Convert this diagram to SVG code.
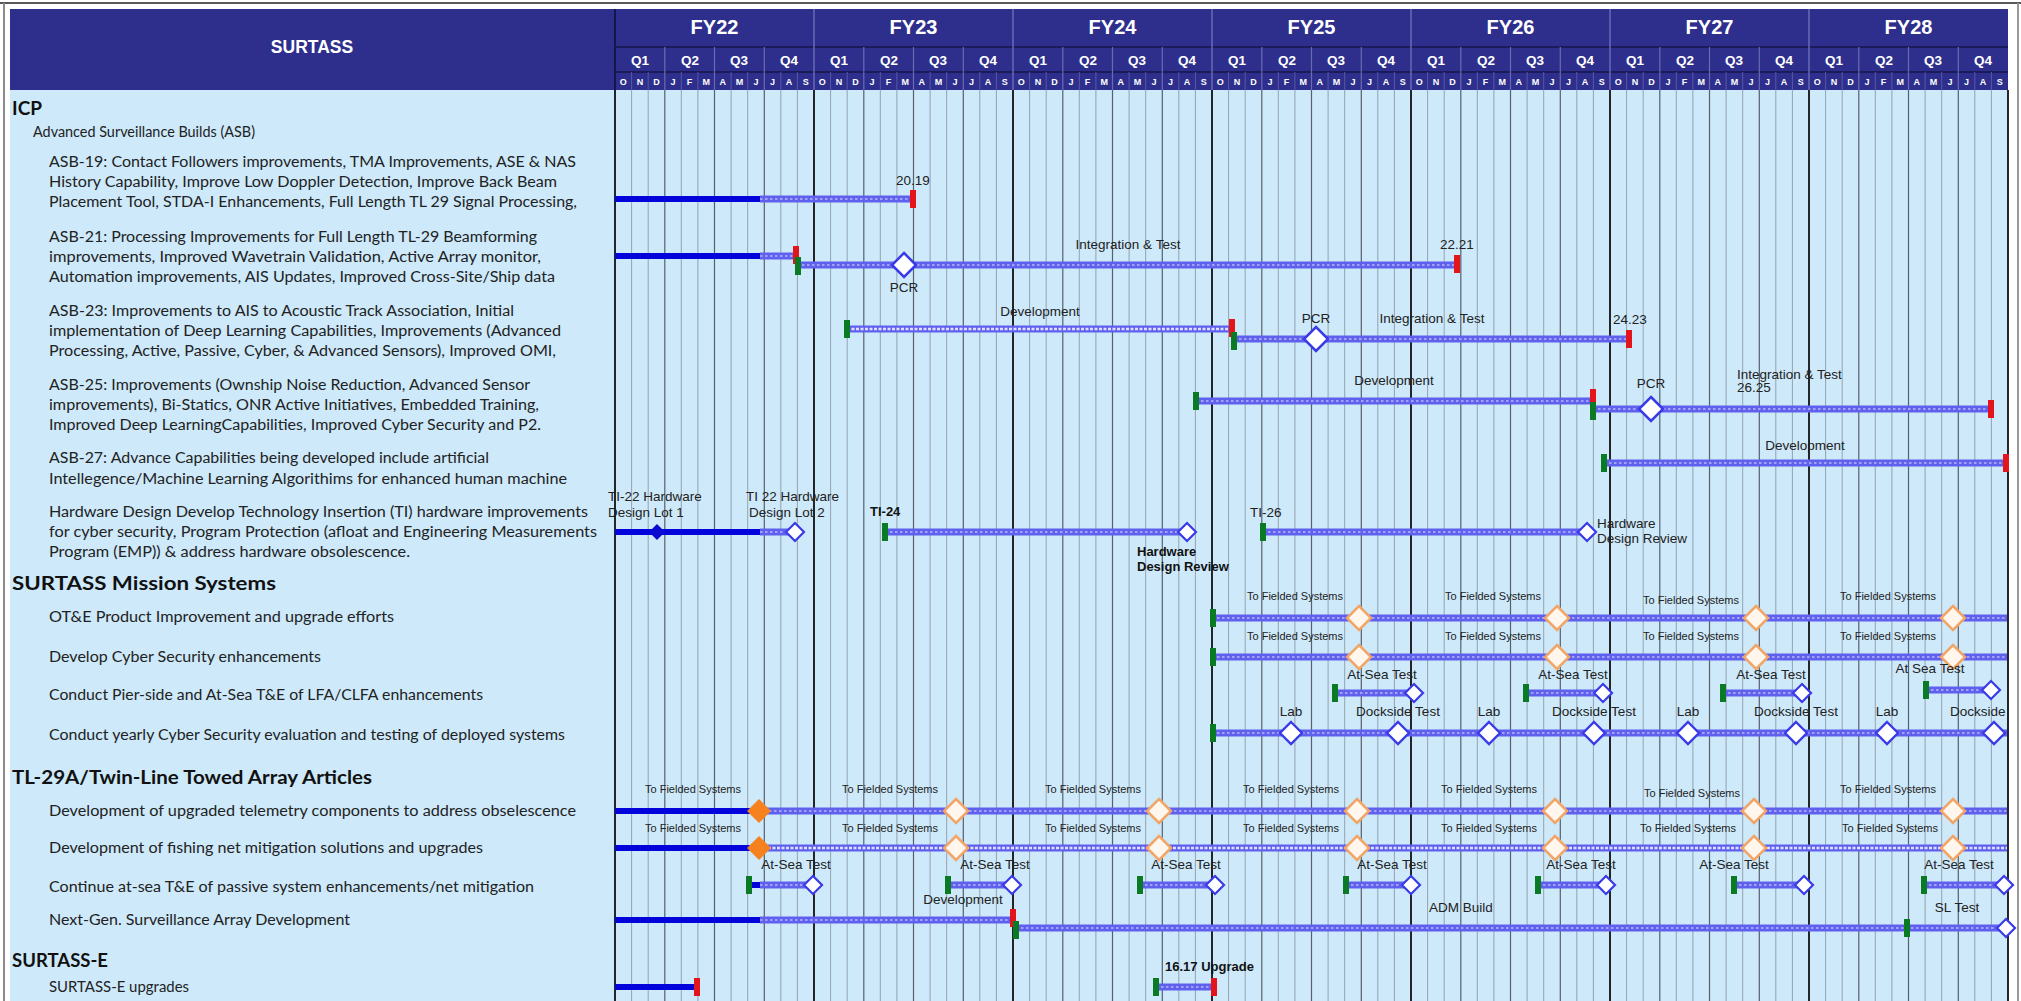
<svg xmlns="http://www.w3.org/2000/svg" xmlns:xlink="http://www.w3.org/1999/xlink" width="2021" height="1001" viewBox="0 0 2021 1001">
<style>
.lt{font-family:"Lato","Liberation Sans",sans-serif;font-size:15.5px;fill:#222}
.hd1{font-family:"Lato","Liberation Sans",sans-serif;font-size:19px;font-weight:bold;fill:#111}
.sec{font-family:"Lato","Liberation Sans",sans-serif;font-size:15.5px;fill:#222}
.lb{font-family:"Liberation Sans",Arial,sans-serif;font-size:13.5px;fill:#222}
.lbc{font-family:"Liberation Sans",Arial,sans-serif;font-size:13.5px;fill:#222;text-anchor:middle}
.tf{font-family:"Liberation Sans",Arial,sans-serif;font-size:11px;fill:#222;text-anchor:middle}
.bd{font-family:"Liberation Sans",Arial,sans-serif;font-size:13px;font-weight:bold;fill:#111}
.fy{font-family:"Liberation Sans",Arial,sans-serif;font-size:20px;font-weight:bold;fill:#fff;text-anchor:middle}
.q{font-family:"Liberation Sans",Arial,sans-serif;font-size:13.5px;font-weight:bold;fill:#fff;text-anchor:middle}
.mo{font-family:"Liberation Sans",Arial,sans-serif;font-size:9px;font-weight:bold;fill:#fff;text-anchor:middle}
.sb{stroke:#0303dc;stroke-width:6}
.hb{stroke:#6060ee;stroke-width:7}
.hs{stroke:#b8b8ff;stroke-width:1.6;stroke-dasharray:2.5 2.5}
.dv{stroke:#6060ee;stroke-width:7}
.dvi{stroke:#dedeff;stroke-width:2.6;stroke-dasharray:3 1.5}
</style>
<defs>
<rect id="red" x="-3" y="-9" width="6" height="18" fill="#e3151a"/>
<rect id="grn" x="-3" y="-9" width="6" height="18" fill="#0b7a24"/>
<path id="dpcr" d="M0,-12L12,0L0,12L-12,0Z" fill="#fff" stroke="#3a3ae8" stroke-width="2.5"/>
<path id="dsm" d="M0,-9L9,0L0,9L-9,0Z" fill="#fff" stroke="#3a3ae8" stroke-width="2.2"/>
<path id="dmd" d="M0,-11L11,0L0,11L-11,0Z" fill="#fff" stroke="#3a3ae8" stroke-width="2.4"/>
<path id="dbl" d="M0,-8L8,0L0,8L-8,0Z" fill="#0a0ad0"/>
<path id="dor" d="M0,-12L12,0L0,12L-12,0Z" fill="#fff7ee" stroke="#f2a566" stroke-width="2.5"/>
<path id="dof" d="M0,-12L12,0L0,12L-12,0Z" fill="#f5821f"/>
<clipPath id="tl"><rect x="615" y="90" width="1393" height="911"/></clipPath>
</defs>

<g id="background">
<rect x="0" y="0" width="2021" height="1001" fill="#fff"/>
<line x1="0" y1="3" x2="2021" y2="3" stroke="#222" stroke-width="1.5"/>
<line x1="4" y1="3" x2="4" y2="1001" stroke="#8a8a8a" stroke-width="2"/>
<line x1="2018" y1="3" x2="2018" y2="1001" stroke="#9a9a9a" stroke-width="2"/>
<rect x="10" y="90" width="605" height="911" fill="#cde9fa"/>
<rect x="615" y="90" width="1393" height="911" fill="#cde9fa"/>
</g>

<g id="header">
<rect x="10" y="9" width="1998" height="81" fill="#2e2f8c"/>
<text x="312" y="53" font-family="Liberation Sans,Arial,sans-serif" font-size="17.5" font-weight="bold" fill="#fff" text-anchor="middle">SURTASS</text>
<line x1="615" y1="9" x2="615" y2="90" stroke="#15154a" stroke-width="2"/>
<path d="M615 47H2008M615 72H2008" stroke="#1b1b5a" stroke-width="2"/>
<path d="M814 9V90M1013 9V90M1212 9V90M1411 9V90M1610 9V90M1809 9V90" stroke="#6a6ab4" stroke-width="1.5"/>
<path d="M664.8 47V90M714.5 47V90M764.3 47V90M863.8 47V90M913.5 47V90M963.3 47V90M1062.8 47V90M1112.5 47V90M1162.3 47V90M1261.8 47V90M1311.5 47V90M1361.3 47V90M1460.8 47V90M1510.5 47V90M1560.3 47V90M1659.8 47V90M1709.5 47V90M1759.3 47V90M1858.8 47V90M1908.5 47V90M1958.3 47V90" stroke="#6a6ab4" stroke-width="1.2"/>
<path d="M631.6 72V90M648.2 72V90M681.3 72V90M697.9 72V90M731.1 72V90M747.7 72V90M780.8 72V90M797.4 72V90M830.6 72V90M847.2 72V90M880.3 72V90M896.9 72V90M930.1 72V90M946.7 72V90M979.8 72V90M996.4 72V90M1029.6 72V90M1046.2 72V90M1079.3 72V90M1095.9 72V90M1129.1 72V90M1145.7 72V90M1178.8 72V90M1195.4 72V90M1228.6 72V90M1245.2 72V90M1278.3 72V90M1294.9 72V90M1328.1 72V90M1344.7 72V90M1377.8 72V90M1394.4 72V90M1427.6 72V90M1444.2 72V90M1477.3 72V90M1493.9 72V90M1527.1 72V90M1543.7 72V90M1576.8 72V90M1593.4 72V90M1626.6 72V90M1643.2 72V90M1676.3 72V90M1692.9 72V90M1726.1 72V90M1742.7 72V90M1775.8 72V90M1792.4 72V90M1825.6 72V90M1842.2 72V90M1875.3 72V90M1891.9 72V90M1925.1 72V90M1941.7 72V90M1974.8 72V90M1991.4 72V90" stroke="#5858a6" stroke-width="1"/>
<text class="fy" x="714.5" y="34">FY22</text>
<text class="fy" x="913.5" y="34">FY23</text>
<text class="fy" x="1112.5" y="34">FY24</text>
<text class="fy" x="1311.5" y="34">FY25</text>
<text class="fy" x="1510.5" y="34">FY26</text>
<text class="fy" x="1709.5" y="34">FY27</text>
<text class="fy" x="1908.5" y="34">FY28</text>
<g id="quarters">
<text class="q" x="640" y="65">Q1</text><text class="q" x="690" y="65">Q2</text><text class="q" x="739" y="65">Q3</text><text class="q" x="789" y="65">Q4</text>
<text class="q" x="839" y="65">Q1</text><text class="q" x="889" y="65">Q2</text><text class="q" x="938" y="65">Q3</text><text class="q" x="988" y="65">Q4</text>
<text class="q" x="1038" y="65">Q1</text><text class="q" x="1088" y="65">Q2</text><text class="q" x="1137" y="65">Q3</text><text class="q" x="1187" y="65">Q4</text>
<text class="q" x="1237" y="65">Q1</text><text class="q" x="1287" y="65">Q2</text><text class="q" x="1336" y="65">Q3</text><text class="q" x="1386" y="65">Q4</text>
<text class="q" x="1436" y="65">Q1</text><text class="q" x="1486" y="65">Q2</text><text class="q" x="1535" y="65">Q3</text><text class="q" x="1585" y="65">Q4</text>
<text class="q" x="1635" y="65">Q1</text><text class="q" x="1685" y="65">Q2</text><text class="q" x="1734" y="65">Q3</text><text class="q" x="1784" y="65">Q4</text>
<text class="q" x="1834" y="65">Q1</text><text class="q" x="1884" y="65">Q2</text><text class="q" x="1933" y="65">Q3</text><text class="q" x="1983" y="65">Q4</text>
</g>
<g id="months">
<text class="mo" x="623.3" y="85">O</text><text class="mo" x="639.9" y="85">N</text><text class="mo" x="656.5" y="85">D</text><text class="mo" x="673" y="85">J</text><text class="mo" x="689.6" y="85">F</text><text class="mo" x="706.2" y="85">M</text><text class="mo" x="722.8" y="85">A</text><text class="mo" x="739.4" y="85">M</text><text class="mo" x="756" y="85">J</text><text class="mo" x="772.5" y="85">J</text><text class="mo" x="789.1" y="85">A</text><text class="mo" x="805.7" y="85">S</text>
<text class="mo" x="822.3" y="85">O</text><text class="mo" x="838.9" y="85">N</text><text class="mo" x="855.5" y="85">D</text><text class="mo" x="872" y="85">J</text><text class="mo" x="888.6" y="85">F</text><text class="mo" x="905.2" y="85">M</text><text class="mo" x="921.8" y="85">A</text><text class="mo" x="938.4" y="85">M</text><text class="mo" x="955" y="85">J</text><text class="mo" x="971.5" y="85">J</text><text class="mo" x="988.1" y="85">A</text><text class="mo" x="1004.7" y="85">S</text>
<text class="mo" x="1021.3" y="85">O</text><text class="mo" x="1037.9" y="85">N</text><text class="mo" x="1054.5" y="85">D</text><text class="mo" x="1071" y="85">J</text><text class="mo" x="1087.6" y="85">F</text><text class="mo" x="1104.2" y="85">M</text><text class="mo" x="1120.8" y="85">A</text><text class="mo" x="1137.4" y="85">M</text><text class="mo" x="1154" y="85">J</text><text class="mo" x="1170.5" y="85">J</text><text class="mo" x="1187.1" y="85">A</text><text class="mo" x="1203.7" y="85">S</text>
<text class="mo" x="1220.3" y="85">O</text><text class="mo" x="1236.9" y="85">N</text><text class="mo" x="1253.5" y="85">D</text><text class="mo" x="1270" y="85">J</text><text class="mo" x="1286.6" y="85">F</text><text class="mo" x="1303.2" y="85">M</text><text class="mo" x="1319.8" y="85">A</text><text class="mo" x="1336.4" y="85">M</text><text class="mo" x="1353" y="85">J</text><text class="mo" x="1369.5" y="85">J</text><text class="mo" x="1386.1" y="85">A</text><text class="mo" x="1402.7" y="85">S</text>
<text class="mo" x="1419.3" y="85">O</text><text class="mo" x="1435.9" y="85">N</text><text class="mo" x="1452.5" y="85">D</text><text class="mo" x="1469" y="85">J</text><text class="mo" x="1485.6" y="85">F</text><text class="mo" x="1502.2" y="85">M</text><text class="mo" x="1518.8" y="85">A</text><text class="mo" x="1535.4" y="85">M</text><text class="mo" x="1552" y="85">J</text><text class="mo" x="1568.5" y="85">J</text><text class="mo" x="1585.1" y="85">A</text><text class="mo" x="1601.7" y="85">S</text>
<text class="mo" x="1618.3" y="85">O</text><text class="mo" x="1634.9" y="85">N</text><text class="mo" x="1651.5" y="85">D</text><text class="mo" x="1668" y="85">J</text><text class="mo" x="1684.6" y="85">F</text><text class="mo" x="1701.2" y="85">M</text><text class="mo" x="1717.8" y="85">A</text><text class="mo" x="1734.4" y="85">M</text><text class="mo" x="1751" y="85">J</text><text class="mo" x="1767.5" y="85">J</text><text class="mo" x="1784.1" y="85">A</text><text class="mo" x="1800.7" y="85">S</text>
<text class="mo" x="1817.3" y="85">O</text><text class="mo" x="1833.9" y="85">N</text><text class="mo" x="1850.5" y="85">D</text><text class="mo" x="1867" y="85">J</text><text class="mo" x="1883.6" y="85">F</text><text class="mo" x="1900.2" y="85">M</text><text class="mo" x="1916.8" y="85">A</text><text class="mo" x="1933.4" y="85">M</text><text class="mo" x="1950" y="85">J</text><text class="mo" x="1966.5" y="85">J</text><text class="mo" x="1983.1" y="85">A</text><text class="mo" x="1999.7" y="85">S</text>
</g>
</g>

<g id="grid">
<path d="M631.6 90V1001M648.2 90V1001M681.3 90V1001M697.9 90V1001M731.1 90V1001M747.7 90V1001M780.8 90V1001M797.4 90V1001M830.6 90V1001M847.2 90V1001M880.3 90V1001M896.9 90V1001M930.1 90V1001M946.7 90V1001M979.8 90V1001M996.4 90V1001M1029.6 90V1001M1046.2 90V1001M1079.3 90V1001M1095.9 90V1001M1129.1 90V1001M1145.7 90V1001M1178.8 90V1001M1195.4 90V1001M1228.6 90V1001M1245.2 90V1001M1278.3 90V1001M1294.9 90V1001M1328.1 90V1001M1344.7 90V1001M1377.8 90V1001M1394.4 90V1001M1427.6 90V1001M1444.2 90V1001M1477.3 90V1001M1493.9 90V1001M1527.1 90V1001M1543.7 90V1001M1576.8 90V1001M1593.4 90V1001M1626.6 90V1001M1643.2 90V1001M1676.3 90V1001M1692.9 90V1001M1726.1 90V1001M1742.7 90V1001M1775.8 90V1001M1792.4 90V1001M1825.6 90V1001M1842.2 90V1001M1875.3 90V1001M1891.9 90V1001M1925.1 90V1001M1941.7 90V1001M1974.8 90V1001M1991.4 90V1001" stroke="#95a2ae" stroke-width="1"/>
<path d="M664.8 90V1001M714.5 90V1001M764.3 90V1001M863.8 90V1001M913.5 90V1001M963.3 90V1001M1062.8 90V1001M1112.5 90V1001M1162.3 90V1001M1261.8 90V1001M1311.5 90V1001M1361.3 90V1001M1460.8 90V1001M1510.5 90V1001M1560.3 90V1001M1659.8 90V1001M1709.5 90V1001M1759.3 90V1001M1858.8 90V1001M1908.5 90V1001M1958.3 90V1001" stroke="#56616c" stroke-width="1.2"/>
<path d="M615 90V1001M814 90V1001M1013 90V1001M1212 90V1001M1411 90V1001M1610 90V1001M1809 90V1001M2008 90V1001" stroke="#111" stroke-width="1.8"/>
</g>

<g id="left-labels">
<text class="hd1" x="12" y="115">ICP</text>
<text class="sec" x="33" y="137" textLength="222" lengthAdjust="spacingAndGlyphs">Advanced Surveillance Builds (ASB)</text>
<g id="lbl-asb19">
<text class="lt" x="49" y="167" textLength="527" lengthAdjust="spacingAndGlyphs">ASB-19: Contact Followers improvements, TMA Improvements, ASE &amp; NAS</text>
<text class="lt" x="49" y="187" textLength="508" lengthAdjust="spacingAndGlyphs">History Capability, Improve Low Doppler Detection, Improve Back Beam</text>
<text class="lt" x="49" y="207" textLength="528" lengthAdjust="spacingAndGlyphs">Placement Tool, STDA-I Enhancements, Full Length TL 29 Signal Processing,</text>
</g>
<g id="lbl-asb21">
<text class="lt" x="49" y="242" textLength="488" lengthAdjust="spacingAndGlyphs">ASB-21: Processing Improvements for Full Length TL-29 Beamforming</text>
<text class="lt" x="49" y="262" textLength="492" lengthAdjust="spacingAndGlyphs">improvements, Improved Wavetrain Validation, Active Array monitor,</text>
<text class="lt" x="49" y="282" textLength="506" lengthAdjust="spacingAndGlyphs">Automation improvements, AIS Updates, Improved Cross-Site/Ship data</text>
</g>
<g id="lbl-asb23">
<text class="lt" x="49" y="316" textLength="465" lengthAdjust="spacingAndGlyphs">ASB-23: Improvements to AIS to Acoustic Track Association, Initial</text>
<text class="lt" x="49" y="336" textLength="512" lengthAdjust="spacingAndGlyphs">implementation of Deep Learning Capabilities, Improvements (Advanced</text>
<text class="lt" x="49" y="356" textLength="507" lengthAdjust="spacingAndGlyphs">Processing, Active, Passive, Cyber, &amp; Advanced Sensors), Improved OMI,</text>
</g>
<g id="lbl-asb25">
<text class="lt" x="49" y="390" textLength="481" lengthAdjust="spacingAndGlyphs">ASB-25: Improvements (Ownship Noise Reduction, Advanced Sensor</text>
<text class="lt" x="49" y="410" textLength="490" lengthAdjust="spacingAndGlyphs">improvements), Bi-Statics, ONR Active Initiatives, Embedded Training,</text>
<text class="lt" x="49" y="430" textLength="492" lengthAdjust="spacingAndGlyphs">Improved Deep LearningCapabilities, Improved Cyber Security and P2.</text>
</g>
<g id="lbl-asb27">
<text class="lt" x="49" y="463" textLength="440" lengthAdjust="spacingAndGlyphs">ASB-27: Advance Capabilities being developed include artificial</text>
<text class="lt" x="49" y="484" textLength="518" lengthAdjust="spacingAndGlyphs">Intellegence/Machine Learning Algorithims for enhanced human machine</text>
</g>
<g id="lbl-hw">
<text class="lt" x="49" y="517" textLength="539" lengthAdjust="spacingAndGlyphs">Hardware Design Develop Technology Insertion (TI) hardware improvements</text>
<text class="lt" x="49" y="537" textLength="548" lengthAdjust="spacingAndGlyphs">for cyber security, Program Protection (afloat and Engineering Measurements</text>
<text class="lt" x="49" y="557" textLength="361" lengthAdjust="spacingAndGlyphs">Program (EMP)) &amp; address hardware obsolescence.</text>
</g>
<text class="hd1" x="12" y="590" textLength="264" lengthAdjust="spacingAndGlyphs">SURTASS Mission Systems</text>
<text class="lt" x="49" y="622" textLength="345" lengthAdjust="spacingAndGlyphs">OT&amp;E Product Improvement and upgrade efforts</text>
<text class="lt" x="49" y="662" textLength="272" lengthAdjust="spacingAndGlyphs">Develop Cyber Security enhancements</text>
<text class="lt" x="49" y="700" textLength="434" lengthAdjust="spacingAndGlyphs">Conduct Pier-side and At-Sea T&amp;E of LFA/CLFA enhancements</text>
<text class="lt" x="49" y="740" textLength="516" lengthAdjust="spacingAndGlyphs">Conduct yearly Cyber Security evaluation and testing of deployed systems</text>
<text class="hd1" x="12" y="784" textLength="360" lengthAdjust="spacingAndGlyphs">TL-29A/Twin-Line Towed Array Articles</text>
<text class="lt" x="49" y="816" textLength="527" lengthAdjust="spacingAndGlyphs">Development of upgraded telemetry components to address obselescence</text>
<text class="lt" x="49" y="853" textLength="434" lengthAdjust="spacingAndGlyphs">Development of fishing net mitigation solutions and upgrades</text>
<text class="lt" x="49" y="892" textLength="485" lengthAdjust="spacingAndGlyphs">Continue at-sea T&amp;E of passive system enhancements/net mitigation</text>
<text class="lt" x="49" y="925" textLength="301" lengthAdjust="spacingAndGlyphs">Next-Gen. Surveillance Array Development</text>
<text class="hd1" x="12" y="967" textLength="96" lengthAdjust="spacingAndGlyphs">SURTASS-E</text>
<text class="lt" x="49" y="992" textLength="140" lengthAdjust="spacingAndGlyphs">SURTASS-E upgrades</text>
</g>

<g id="connectors">
<g id="row-asb19">
<line class="sb" x1="615" y1="199" x2="760" y2="199"/>
<line class="hb" x1="760" y1="199" x2="913" y2="199"/><line class="hs" x1="760" y1="199" x2="913" y2="199"/>
<use href="#red" x="913" y="199"/>
<text class="lbc" x="913" y="185">20.19</text>
</g>
<g id="row-asb21">
<line class="sb" x1="615" y1="256" x2="760" y2="256"/>
<line class="hb" x1="760" y1="256" x2="797" y2="256"/><line class="hs" x1="760" y1="256" x2="797" y2="256"/>
<line class="hb" x1="797" y1="265" x2="1457" y2="265"/><line class="hs" x1="797" y1="265" x2="1457" y2="265"/>
<use href="#red" x="796" y="255"/>
<use href="#grn" x="798" y="266"/>
<use href="#dpcr" x="904" y="265"/>
<text class="lbc" x="904" y="292">PCR</text>
<text class="lbc" x="1128" y="249">Integration &amp; Test</text>
<use href="#red" x="1457" y="264"/>
<text class="lbc" x="1457" y="249">22.21</text>
</g>
<g id="row-asb23">
<line class="dv" x1="847" y1="329" x2="1232" y2="329"/><line class="dvi" x1="847" y1="329" x2="1232" y2="329"/>
<use href="#grn" x="847" y="329"/>
<use href="#red" x="1232" y="328"/>
<text class="lbc" x="1040" y="316">Development</text>
<line class="hb" x1="1234" y1="339" x2="1629" y2="339"/><line class="hs" x1="1234" y1="339" x2="1629" y2="339"/>
<use href="#grn" x="1234" y="341"/>
<use href="#dpcr" x="1316" y="339"/>
<text class="lbc" x="1316" y="323">PCR</text>
<text class="lbc" x="1432" y="323">Integration &amp; Test</text>
<use href="#red" x="1629" y="339"/>
<text class="lbc" x="1630" y="324">24.23</text>
</g>
<g id="row-asb25">
<line class="hb" x1="1196" y1="401" x2="1593" y2="401"/><line class="hs" x1="1196" y1="401" x2="1593" y2="401"/>
<use href="#grn" x="1196" y="401"/>
<use href="#red" x="1593" y="398"/>
<text class="lbc" x="1394" y="385">Development</text>
<line class="hb" x1="1593" y1="409" x2="1991" y2="409"/><line class="hs" x1="1593" y1="409" x2="1991" y2="409"/>
<use href="#grn" x="1593" y="411"/>
<use href="#dpcr" x="1651" y="409"/>
<text class="lbc" x="1651" y="388">PCR</text>
<text class="lb" x="1737" y="379">Integration &amp; Test</text>
<text class="lb" x="1737" y="392">26.25</text>
<use href="#red" x="1991" y="409"/>
</g>
<g id="row-asb27">
<line class="hb" x1="1604" y1="463" x2="2007" y2="463"/><line class="hs" x1="1604" y1="463" x2="2007" y2="463"/>
<use href="#grn" x="1604" y="463"/>
<use href="#red" x="2006" y="463"/>
<text class="lbc" x="1805" y="450">Development</text>
</g>
<g id="row-hardware">
<line class="sb" x1="615" y1="532" x2="760" y2="532"/>
<line class="hb" x1="760" y1="532" x2="795" y2="532"/><line class="hs" x1="760" y1="532" x2="795" y2="532"/>
<use href="#dbl" x="657" y="532"/>
<use href="#dsm" x="795" y="532"/>
<text class="lb" x="608" y="501">TI-22 Hardware</text>
<text class="lb" x="608" y="517">Design Lot 1</text>
<text class="lb" x="746" y="501">TI 22 Hardware</text>
<text class="lb" x="749" y="517">Design Lot 2</text>
<text class="bd" x="870" y="516">TI-24</text>
<line class="hb" x1="885" y1="532" x2="1187" y2="532"/><line class="hs" x1="885" y1="532" x2="1187" y2="532"/>
<use href="#grn" x="885" y="532"/>
<use href="#dsm" x="1187" y="532"/>
<text class="bd" x="1137" y="556">Hardware</text>
<text class="bd" x="1137" y="571">Design Review</text>
<text class="lb" x="1250" y="517">TI-26</text>
<line class="hb" x1="1263" y1="532" x2="1587" y2="532"/><line class="hs" x1="1263" y1="532" x2="1587" y2="532"/>
<use href="#grn" x="1263" y="532"/>
<use href="#dsm" x="1587" y="532"/>
<text class="lb" x="1597" y="528">Hardware</text>
<text class="lb" x="1597" y="543">Design Review</text>
</g>
<g id="row-ote">
<line class="hb" x1="1212" y1="618" x2="2007" y2="618"/><line class="hs" x1="1212" y1="618" x2="2007" y2="618"/>
<use href="#grn" x="1213" y="618"/>
<use href="#dor" x="1359" y="618"/><use href="#dor" x="1557" y="618"/><use href="#dor" x="1756" y="618"/><use href="#dor" x="1953" y="618"/>
<text class="tf" x="1295" y="600">To Fielded Systems</text>
<text class="tf" x="1493" y="600">To Fielded Systems</text>
<text class="tf" x="1691" y="604">To Fielded Systems</text>
<text class="tf" x="1888" y="600">To Fielded Systems</text>
</g>
<g id="row-cyber">
<line class="hb" x1="1212" y1="657" x2="2007" y2="657"/><line class="hs" x1="1212" y1="657" x2="2007" y2="657"/>
<use href="#grn" x="1213" y="657"/>
<use href="#dor" x="1359" y="657"/><use href="#dor" x="1557" y="657"/><use href="#dor" x="1756" y="657"/><use href="#dor" x="1953" y="657"/>
<text class="tf" x="1295" y="640">To Fielded Systems</text>
<text class="tf" x="1493" y="640">To Fielded Systems</text>
<text class="tf" x="1691" y="640">To Fielded Systems</text>
<text class="tf" x="1888" y="640">To Fielded Systems</text>
</g>
<g id="row-pierside">
<line class="hb" x1="1335" y1="693" x2="1414" y2="693"/><line class="hs" x1="1335" y1="693" x2="1414" y2="693"/>
<use href="#grn" x="1335" y="693"/><use href="#dsm" x="1414" y="693"/>
<line class="hb" x1="1526" y1="693" x2="1603" y2="693"/><line class="hs" x1="1526" y1="693" x2="1603" y2="693"/>
<use href="#grn" x="1526" y="693"/><use href="#dsm" x="1603" y="693"/>
<line class="hb" x1="1723" y1="693" x2="1802" y2="693"/><line class="hs" x1="1723" y1="693" x2="1802" y2="693"/>
<use href="#grn" x="1723" y="693"/><use href="#dsm" x="1802" y="693"/>
<line class="hb" x1="1926" y1="690" x2="1991" y2="690"/><line class="hs" x1="1926" y1="690" x2="1991" y2="690"/>
<use href="#grn" x="1926" y="690"/><use href="#dsm" x="1991" y="690"/>
<text class="lbc" x="1382" y="679">At-Sea Test</text>
<text class="lbc" x="1573" y="679">At-Sea Test</text>
<text class="lbc" x="1771" y="679">At-Sea Test</text>
<text class="lbc" x="1930" y="673">At Sea Test</text>
</g>
<g id="row-yearly">
<line class="hb" x1="1212" y1="733" x2="2007" y2="733"/><line class="hs" x1="1212" y1="733" x2="2007" y2="733"/>
<use href="#grn" x="1213" y="733"/>
<use href="#dmd" x="1291" y="733"/><use href="#dmd" x="1398" y="733"/><use href="#dmd" x="1489" y="733"/><use href="#dmd" x="1594" y="733"/>
<use href="#dmd" x="1688" y="733"/><use href="#dmd" x="1796" y="733"/><use href="#dmd" x="1887" y="733"/><use href="#dmd" x="1994" y="733"/>
<text class="lbc" x="1291" y="716">Lab</text>
<text class="lbc" x="1398" y="716">Dockside Test</text>
<text class="lbc" x="1489" y="716">Lab</text>
<text class="lbc" x="1594" y="716">Dockside Test</text>
<text class="lbc" x="1688" y="716">Lab</text>
<text class="lbc" x="1796" y="716">Dockside Test</text>
<text class="lbc" x="1887" y="716">Lab</text>
<text class="lb" x="1950" y="716" clip-path="url(#tl)">Dockside</text>
</g>
<g id="row-telemetry">
<line class="sb" x1="615" y1="811" x2="759" y2="811"/>
<line class="hb" x1="759" y1="811" x2="2007" y2="811"/><line class="hs" x1="759" y1="811" x2="2007" y2="811"/>
<use href="#dof" x="759" y="811"/>
<use href="#dor" x="956" y="811"/><use href="#dor" x="1159" y="811"/><use href="#dor" x="1357" y="811"/><use href="#dor" x="1555" y="811"/><use href="#dor" x="1754" y="811"/><use href="#dor" x="1953" y="811"/>
<text class="tf" x="693" y="793">To Fielded Systems</text>
<text class="tf" x="890" y="793">To Fielded Systems</text>
<text class="tf" x="1093" y="793">To Fielded Systems</text>
<text class="tf" x="1291" y="793">To Fielded Systems</text>
<text class="tf" x="1489" y="793">To Fielded Systems</text>
<text class="tf" x="1692" y="797">To Fielded Systems</text>
<text class="tf" x="1888" y="793">To Fielded Systems</text>
</g>
<g id="row-fishing">
<line class="sb" x1="615" y1="848" x2="759" y2="848"/>
<line class="dv" x1="759" y1="848" x2="2007" y2="848"/><line class="dvi" x1="759" y1="848" x2="2007" y2="848"/>
<use href="#dof" x="759" y="848"/>
<use href="#dor" x="956" y="848"/><use href="#dor" x="1159" y="848"/><use href="#dor" x="1357" y="848"/><use href="#dor" x="1555" y="848"/><use href="#dor" x="1754" y="848"/><use href="#dor" x="1953" y="848"/>
<text class="tf" x="693" y="832">To Fielded Systems</text>
<text class="tf" x="890" y="832">To Fielded Systems</text>
<text class="tf" x="1093" y="832">To Fielded Systems</text>
<text class="tf" x="1291" y="832">To Fielded Systems</text>
<text class="tf" x="1489" y="832">To Fielded Systems</text>
<text class="tf" x="1688" y="832">To Fielded Systems</text>
<text class="tf" x="1890" y="832">To Fielded Systems</text>
</g>
<g id="row-atsea">
<line class="sb" x1="749" y1="885" x2="760" y2="885"/>
<line class="hb" x1="760" y1="885" x2="813" y2="885"/><line class="hs" x1="760" y1="885" x2="813" y2="885"/>
<use href="#grn" x="749" y="885"/><use href="#dsm" x="813" y="885"/>
<line class="hb" x1="948" y1="885" x2="1012" y2="885"/><line class="hs" x1="948" y1="885" x2="1012" y2="885"/>
<use href="#grn" x="948" y="885"/><use href="#dsm" x="1012" y="885"/>
<line class="hb" x1="1140" y1="885" x2="1215" y2="885"/><line class="hs" x1="1140" y1="885" x2="1215" y2="885"/>
<use href="#grn" x="1140" y="885"/><use href="#dsm" x="1215" y="885"/>
<line class="hb" x1="1346" y1="885" x2="1411" y2="885"/><line class="hs" x1="1346" y1="885" x2="1411" y2="885"/>
<use href="#grn" x="1346" y="885"/><use href="#dsm" x="1411" y="885"/>
<line class="hb" x1="1538" y1="885" x2="1606" y2="885"/><line class="hs" x1="1538" y1="885" x2="1606" y2="885"/>
<use href="#grn" x="1538" y="885"/><use href="#dsm" x="1606" y="885"/>
<line class="hb" x1="1734" y1="885" x2="1804" y2="885"/><line class="hs" x1="1734" y1="885" x2="1804" y2="885"/>
<use href="#grn" x="1734" y="885"/><use href="#dsm" x="1804" y="885"/>
<line class="hb" x1="1924" y1="885" x2="2004" y2="885"/><line class="hs" x1="1924" y1="885" x2="2004" y2="885"/>
<use href="#grn" x="1924" y="885"/><use href="#dsm" x="2004" y="885"/>
<text class="lbc" x="796" y="869">At-Sea Test</text>
<text class="lbc" x="995" y="869">At-Sea Test</text>
<text class="lbc" x="1186" y="869">At-Sea Test</text>
<text class="lbc" x="1392" y="869">At-Sea Test</text>
<text class="lbc" x="1581" y="869">At-Sea Test</text>
<text class="lbc" x="1734" y="869">At-Sea Test</text>
<text class="lbc" x="1959" y="869">At-Sea Test</text>
</g>
<g id="row-nextgen">
<line class="sb" x1="615" y1="920" x2="760" y2="920"/>
<line class="hb" x1="760" y1="920" x2="1013" y2="920"/><line class="hs" x1="760" y1="920" x2="1013" y2="920"/>
<use href="#red" x="1013" y="918"/>
<text class="lbc" x="963" y="904">Development</text>
<line class="hb" x1="1016" y1="928" x2="2006" y2="928"/><line class="hs" x1="1016" y1="928" x2="2006" y2="928"/>
<use href="#grn" x="1016" y="930"/>
<use href="#grn" x="1907" y="928"/>
<use href="#dsm" x="2006" y="928"/>
<text class="lbc" x="1461" y="912">ADM Build</text>
<text class="lbc" x="1957" y="912">SL Test</text>
</g>
<g id="row-surtasse">
<line class="sb" x1="615" y1="987" x2="697" y2="987"/>
<use href="#red" x="697" y="987"/>
<line class="hb" x1="1156" y1="987" x2="1214" y2="987"/><line class="hs" x1="1156" y1="987" x2="1214" y2="987"/>
<use href="#grn" x="1156" y="987"/>
<use href="#red" x="1214" y="987"/>
<text class="bd" x="1165" y="971">16.17 Upgrade</text>
</g>
</g>
</svg>
